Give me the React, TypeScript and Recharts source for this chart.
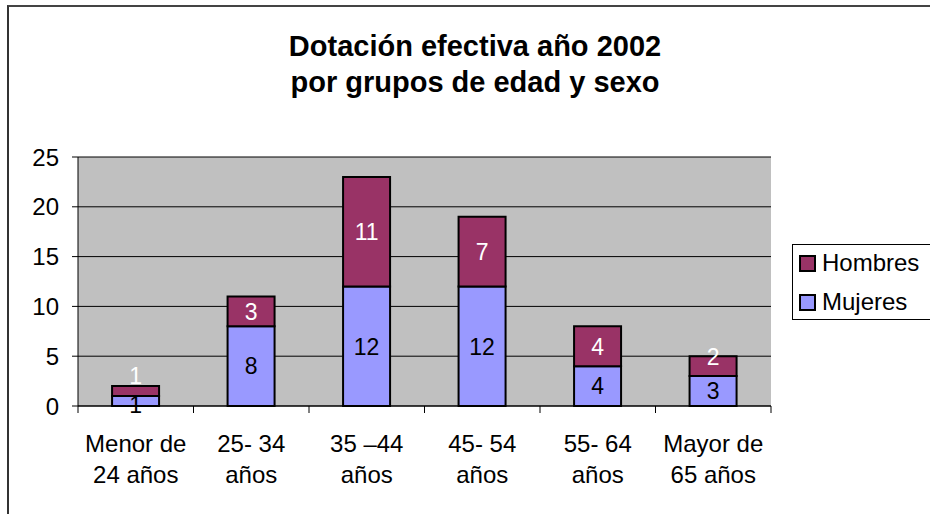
import {
  BarChart,
  Bar,
  XAxis,
  YAxis,
  CartesianGrid,
  LabelList,
} from "recharts";

const categories = [
  ["Menor de", "24 años"],
  ["25- 34", "años"],
  ["35 –44", "años"],
  ["45- 54", "años"],
  ["55- 64", "años"],
  ["Mayor de", "65 años"],
];
const mujeres = [1, 8, 12, 12, 4, 3];
const hombres = [1, 3, 11, 7, 4, 2];
const yTicks = [0, 5, 10, 15, 20, 25];

const W = 930;
const H = 514;
const FONT = "Arial, 'Liberation Sans', sans-serif";
const MARGIN = { top: 157, right: 159, bottom: 28, left: 18 };
const Y_W = 60;
const X_H = 80;
const BAND = (W - MARGIN.left - Y_W - MARGIN.right) / categories.length;

const COLORS = {
  Hombres: "#993366",
  Mujeres: "#9999FF",
};

const data = categories.map((c, i) => ({
  name: c.join(" "),
  lines: c,
  Mujeres: mujeres[i],
  Hombres: hombres[i],
}));

// two-line labels, ticks sit between the categories like in Excel
const CategoryTick = ({ x, y, payload, index }: any) => {
  const lines = data[payload.index ?? index]?.lines ?? [payload.value];
  const half = BAND / 2;
  return (
    <g>
      {index === 0 && (
        <line x1={x - half} x2={x - half} y1={y} y2={y + 7} stroke="#000" />
      )}
      <line x1={x + half} x2={x + half} y1={y} y2={y + 7} stroke="#000" />
      <text
        x={x}
        y={y + 46}
        textAnchor="middle"
        fontSize={24}
        fontFamily={FONT}
        fill="#000"
      >
        {lines[0]}
      </text>
      <text
        x={x}
        y={y + 77}
        textAnchor="middle"
        fontSize={24}
        fontFamily={FONT}
        fill="#000"
      >
        {lines[1]}
      </text>
    </g>
  );
};

// Excel nudges labels of thin segments upward
const segLabel =
  (color: string, above: boolean) =>
  ({ x, y, width, height, value }: any) => {
    const h = Math.abs(height);
    let cy = y + height / 2;
    if (above && h < 12) cy = y - 10;
    else if (above && h < 25) cy = y + 1;
    if (!above && h < 12) cy = y + height / 2 + 4;
    return (
      <text
        x={x + width / 2}
        y={cy}
        dy="0.36em"
        textAnchor="middle"
        fontSize={23}
        fontFamily={FONT}
        fill={color}
      >
        {value}
      </text>
    );
  };

const LegendBox = () => (
  <div
    style={{
      position: "absolute",
      left: 792,
      top: 244,
      border: "1px solid #000",
      background: "#fff",
      width: 160,
      height: 76,
      boxSizing: "border-box",
      fontFamily: FONT,
      fontSize: 24,
      color: "#000",
    }}
  >
    {(["Hombres", "Mujeres"] as const).map((k, i) => (
      <div
        key={k}
        style={{
          position: "absolute",
          left: 6,
          top: i === 0 ? 6 : 45,
          display: "flex",
          alignItems: "center",
          lineHeight: "24px",
        }}
      >
        <span
          style={{
            display: "inline-block",
            width: 13,
            height: 13,
            border: "2px solid #000",
            background: COLORS[k],
            marginRight: 6,
          }}
        />
        {k}
      </div>
    ))}
  </div>
);

export default function App() {
  return (
    <div
      style={{
        position: "absolute",
        left: 0,
        top: 0,
        width: W,
        height: H,
        overflow: "hidden",
        background: "#fff",
      }}
    >
      <div
        style={{
          position: "absolute",
          left: 7,
          top: 5,
          width: 1000,
          height: 600,
          borderLeft: "2px solid #333",
          borderTop: "2px solid #444",
        }}
      />
      <div
        style={{
          position: "absolute",
          left: 0,
          width: 950,
          top: 28,
          textAlign: "center",
          fontFamily: FONT,
          fontWeight: "bold",
          fontSize: 29,
          lineHeight: "36px",
          color: "#000",
        }}
      >
        Dotación efectiva año 2002
        <br />
        por grupos de edad y sexo
      </div>
      <BarChart
        width={W}
        height={H}
        data={data}
        margin={MARGIN}
        barCategoryGap="29.5%"
        style={{ position: "absolute", left: 0, top: 0 }}
      >
        <CartesianGrid
          vertical={false}
          stroke="#000"
          fill="#C0C0C0"
          fillOpacity={1}
        />
        <XAxis
          dataKey="name"
          height={X_H}
          interval={0}
          tickSize={0}
          tickMargin={0}
          tickLine={false}
          axisLine={{ stroke: "#000", strokeWidth: 1 }}
          tick={<CategoryTick />}
        />
        <YAxis
          width={Y_W}
          domain={[0, 25]}
          ticks={yTicks}
          interval={0}
          tickSize={6}
          tickMargin={13}
          axisLine={{ stroke: "#000" }}
          tickLine={{ stroke: "#000" }}
          tick={{ fill: "#000", fontSize: 24, fontFamily: FONT }}
        />
        <YAxis
          yAxisId="edge"
          orientation="right"
          width={0}
          domain={[0, 25]}
          tick={false}
          tickLine={false}
          axisLine={{ stroke: "#808080", strokeWidth: 2 }}
        />
        <Bar
          dataKey="Mujeres"
          stackId="a"
          fill={COLORS.Mujeres}
          stroke="#000"
          strokeWidth={2}
          isAnimationActive={false}
        >
          <LabelList dataKey="Mujeres" content={segLabel("#000", false)} />
        </Bar>
        <Bar
          dataKey="Hombres"
          stackId="a"
          fill={COLORS.Hombres}
          stroke="#000"
          strokeWidth={2}
          isAnimationActive={false}
        >
          <LabelList dataKey="Hombres" content={segLabel("#fff", true)} />
        </Bar>
      </BarChart>
      <LegendBox />
    </div>
  );
}
